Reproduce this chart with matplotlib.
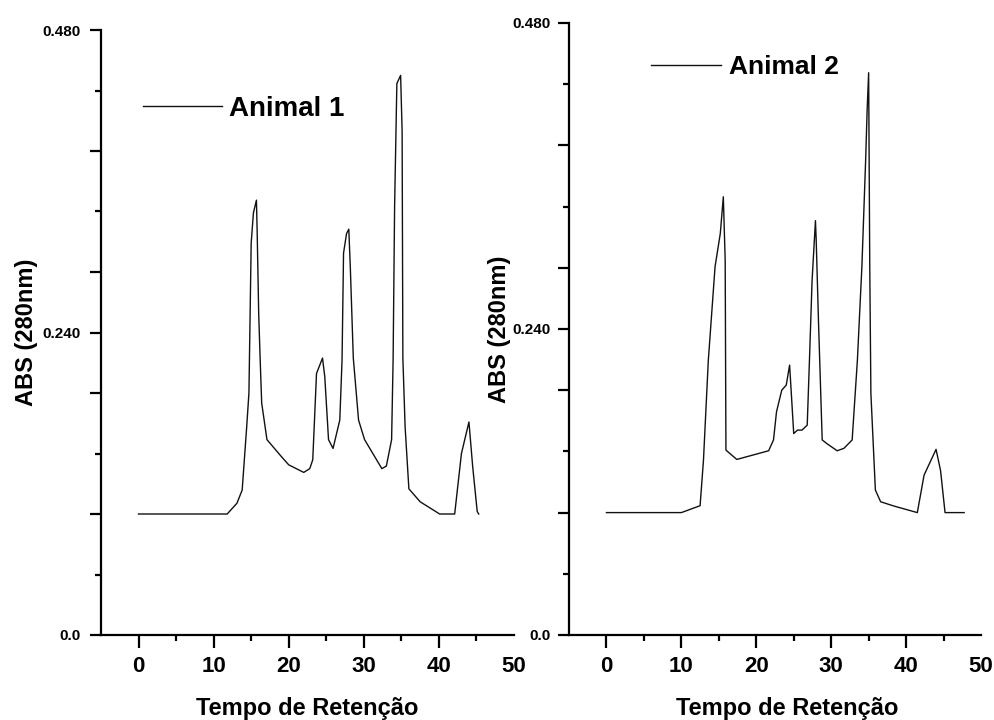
import matplotlib.pyplot as plt
import numpy as np

plt.rcParams['font.family'] = ['Liberation Sans', 'DejaVu Sans']
plt.rcParams['font.weight'] = 'bold'

# Animal 1 chromatogram
t1 = [0, 11.8, 13.1, 13.8, 14.4, 14.7, 15.0, 15.3, 15.7, 15.8, 16.0, 16.2, 16.4,
      17.1, 19.1, 20.0, 22.0, 22.8, 23.2, 23.7, 24.5, 24.8, 25.3, 25.9, 26.8,
      27.1, 27.3, 27.7, 28.0, 28.2, 28.6, 29.3, 30.1, 31.2, 32.4, 33.0, 33.7,
      33.9, 34.1, 34.4, 34.9, 35.1, 35.2, 35.5, 36.0, 37.5, 40.1, 42.1, 43.0,
      44.0, 44.5, 45.1, 45.3]
abs1 = [0.096, 0.096, 0.1045, 0.115, 0.165, 0.192, 0.311, 0.335, 0.345, 0.319,
        0.255, 0.218, 0.184, 0.155, 0.141, 0.135, 0.129, 0.132, 0.139, 0.2075,
        0.2197, 0.205, 0.155, 0.148, 0.1705, 0.218, 0.303, 0.3185, 0.322, 0.292,
        0.2197, 0.1705, 0.155, 0.144, 0.132, 0.134, 0.155, 0.218, 0.340, 0.4375,
        0.444, 0.400, 0.2197, 0.165, 0.116, 0.1057, 0.096, 0.096, 0.144, 0.169,
        0.1335, 0.098, 0.096]

# Animal 2 chromatogram
t2 = [0, 10.0, 12.5, 12.95, 13.6, 14.5, 15.2, 15.6, 15.85, 15.95, 17.4, 21.65,
      22.3, 22.7, 23.4, 24.0, 24.45, 25.0, 25.5, 26.1, 26.8, 27.1, 27.45, 27.9,
      28.0, 28.3, 28.8, 29.45, 30.8, 31.7, 32.8, 33.5, 34.1, 34.6, 34.8, 35.0,
      35.15, 35.3, 35.9, 36.6, 38.4, 41.5, 42.4, 44.0, 44.6, 45.2, 47.75]
abs2 = [0.096, 0.096, 0.1014, 0.137, 0.2156, 0.289, 0.315, 0.3437, 0.294, 0.145,
        0.1377, 0.1445, 0.153, 0.175, 0.192, 0.196, 0.2117, 0.158, 0.1607, 0.1607,
        0.1646, 0.2156, 0.278, 0.325, 0.3097, 0.247, 0.153, 0.150, 0.1445, 0.1464,
        0.153, 0.2156, 0.289, 0.3724, 0.4116, 0.441, 0.289, 0.1895, 0.1137, 0.1045,
        0.1011, 0.096, 0.1254, 0.1456, 0.129, 0.096, 0.096]

W, H = 994, 720
fig = plt.figure(figsize=(W / 100, H / 100), dpi=100)

panels = [
    dict(rect=[101, 30, 514, 635], t=t1, y=abs1, label='Animal 1', lsize=20,
         hl=2.84, hp=0.25, leg=(143, 109), ylab_x=-0.153, xlab_x=0.5, ypad=7),
    dict(rect=[569, 23, 981, 635], t=t2, y=abs2, label='Animal 2', lsize=19,
         hl=2.65, hp=0.3, leg=(651, 67), ylab_x=-0.14, xlab_x=0.529, ypad=5),
]

for p in panels:
    x0, y0, x1, y1 = p['rect']
    ax = fig.add_axes([x0 / W, 1 - y1 / H, (x1 - x0) / W, (y1 - y0) / H])
    ax.plot(p['t'], p['y'], color='#111111', lw=1.0, label=p['label'])
    ax.set_xlim(-5, 50)
    ax.set_ylim(0, 0.48)
    for s in ['top', 'right']:
        ax.spines[s].set_visible(False)
    for s in ['left', 'bottom']:
        ax.spines[s].set_linewidth(1.6)

    ax.set_xticks([0, 10, 20, 30, 40, 50])
    ax.set_xticks([5, 15, 25, 35, 45], minor=True)
    ax.set_yticks([0, 0.096, 0.192, 0.24, 0.288, 0.384, 0.48])
    ax.set_yticklabels(['0.0', '', '', '0.240', '', '', '0.480'])
    ax.set_yticks([0.048, 0.144, 0.336, 0.432], minor=True)
    ax.tick_params(axis='x', which='major', length=9, width=1.6, labelsize=16, pad=6)
    ax.tick_params(axis='x', which='minor', length=4.5, width=1.6)
    ax.tick_params(axis='y', which='major', length=8, width=1.6, labelsize=11,
                   pad=p['ypad'])
    ax.tick_params(axis='y', which='minor', length=4, width=1.6)
    ax.xaxis.get_major_ticks()[-1].tick1line.set_visible(False)
    for lab in ax.get_xticklabels() + ax.get_yticklabels():
        lab.set_fontweight('bold')

    ax.set_xlabel('Tempo de Retenção', fontsize=17, fontweight='bold')
    ax.set_ylabel('ABS (280nm)', fontsize=17, fontweight='bold')
    ax.xaxis.set_label_coords(p['xlab_x'], -0.102)
    ax.yaxis.set_label_coords(p['ylab_x'], 0.5)

    lx, ly = p['leg']
    ax.legend(loc='center left', bbox_to_anchor=(lx / W, 1 - ly / H),
              bbox_transform=fig.transFigure, frameon=False, borderpad=0,
              borderaxespad=0, handlelength=p['hl'], handletextpad=p['hp'],
              prop={'size': p['lsize'], 'weight': 'bold'})

fig.savefig('out.png', dpi=100)
